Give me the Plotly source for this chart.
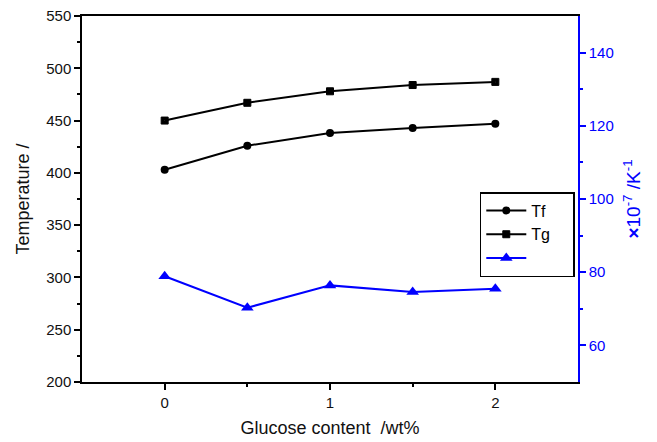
import plotly.graph_objects as go

glucose = [0, 0.5, 1, 1.5, 2]
tf = [403, 426, 438, 443, 447]
tg = [450, 467, 478, 484, 487]
cte = [78.9, 70.3, 76.4, 74.6, 75.5]

FONT = "Liberation Sans, Arial, sans-serif"
BLUE = "#0000ff"
PAD = "\u00a0" * 4

fig = go.Figure()
fig.add_trace(go.Scatter(x=glucose, y=tf, name="Tf" + PAD, mode="lines+markers",
                         line=dict(color="black", width=2),
                         marker=dict(symbol="circle", size=8, color="black")))
fig.add_trace(go.Scatter(x=glucose, y=tg, name="Tg" + PAD, mode="lines+markers",
                         line=dict(color="black", width=2),
                         marker=dict(symbol="square-dot", size=7, color="black",
                                     line=dict(color="black", width=1))))
fig.add_trace(go.Scatter(x=glucose, y=cte, name=PAD, mode="lines+markers", yaxis="y2",
                         line=dict(color=BLUE, width=2),
                         marker=dict(symbol="triangle-up", size=11, color=BLUE)))

fig.update_layout(
    width=657, height=442,
    margin=dict(l=82, r=79, t=16, b=60),
    paper_bgcolor="white", plot_bgcolor="white",
    font=dict(family=FONT, size=15, color="#111"),
    showlegend=True,
    legend=dict(x=0.802, y=0.519, xanchor="left", yanchor="top",
                bordercolor="black", borderwidth=1.5, bgcolor="white",
                font=dict(family=FONT, size=16, color="black"),
                tracegroupgap=0, itemwidth=40),
    xaxis=dict(range=[-0.5, 2.5], tickvals=[0, 1, 2], ticktext=["0", "1", "2"],
               automargin=False,
               showgrid=False, zeroline=False, showline=True, linecolor="black",
               linewidth=1.5, mirror=True, ticks="outside", ticklen=6, tickwidth=1.5,
               tickcolor="black",
               minor=dict(tickvals=[0.5, 1.5], ticklen=3, tickwidth=1.5, tickcolor="black",
                          ticks="outside", showgrid=False),
               tickfont=dict(size=15, color="#111"),
               title=dict(text="Glucose content  /wt%", font=dict(size=18, color="#111"),
                          standoff=12)),
    yaxis=dict(range=[200, 550], tickvals=[200, 250, 300, 350, 400, 450, 500, 550],
               automargin=False,
               showgrid=False, zeroline=False, showline=True, linecolor="black",
               linewidth=1.5, ticks="outside", ticklen=6, tickwidth=1.5, tickcolor="black",
               minor=dict(dtick=25, tick0=200, ticklen=3, tickwidth=1.5, tickcolor="black",
                          ticks="outside", showgrid=False),
               tickfont=dict(size=15, color="#111"),
               title=dict(text="Temperature /", font=dict(size=18, color="#111"),
                          standoff=12)),
    yaxis2=dict(range=[50, 150], tickvals=[60, 80, 100, 120, 140], overlaying="y",
                automargin=False,
                side="right", showgrid=False, zeroline=False, showline=True,
                linecolor=BLUE, linewidth=1.5, ticks="outside", ticklen=6, tickwidth=1.5,
                tickcolor=BLUE,
                minor=dict(tickvals=[70, 90, 110, 130], ticklen=3, tickwidth=1.5,
                           tickcolor=BLUE, ticks="outside", showgrid=False),
                tickfont=dict(size=15, color=BLUE),
                title=dict(text="<b>×</b>10<sup>-7</sup> /K<sup>-1</sup>",
                           font=dict(size=19, color=BLUE), standoff=14)),
)

fig.write_html("out.html", config={"displayModeBar": False},
               post_script="document.body.style.margin='0';document.body.style.overflow='hidden';")
